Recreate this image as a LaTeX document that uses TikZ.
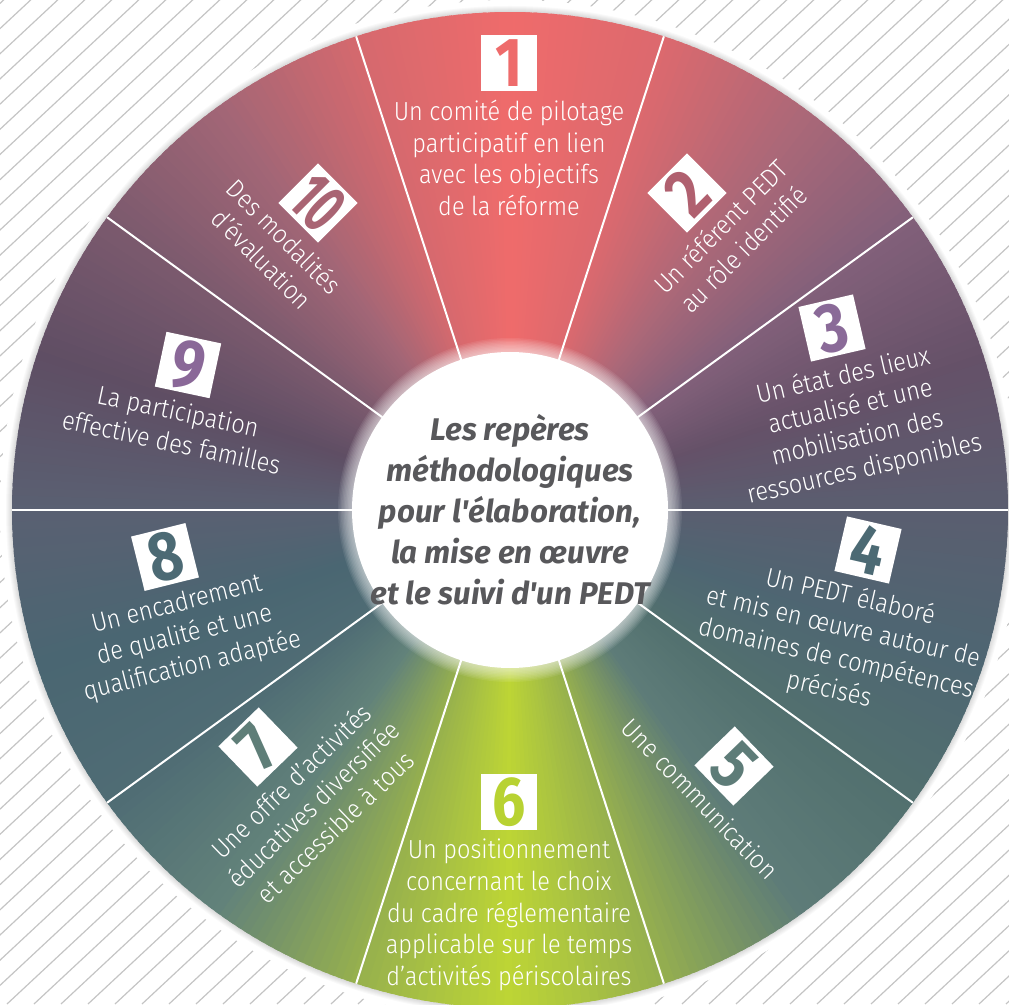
\documentclass[tikz,border=0pt]{standalone}
\usepackage{fontspec}
\setmainfont{Fira Sans}
\newfontfamily\segfont{Fira Sans Light}[FakeStretch=0.9]
\newfontfamily\numfont{Fira Sans}[FakeStretch=0.85]
\newfontfamily\numnarrow{Fira Sans}[FakeStretch=0.62]
\usetikzlibrary{positioning}

\definecolor{hatchgray}{RGB}{196,196,196}
\definecolor{titlegray}{HTML}{58585B}
% wheel colours, every 18 degrees clockwise from the top
\definecolor{k0}{HTML}{EF6B6B}
\definecolor{k1}{HTML}{DC696E}
\definecolor{k2}{HTML}{AC6878}
\definecolor{k3}{HTML}{82607A}
\definecolor{k4}{HTML}{655168}
\definecolor{k5}{HTML}{5A5E70}
\definecolor{k6}{HTML}{4E6672}
\definecolor{k7}{HTML}{52706F}
\definecolor{k8}{HTML}{5E7C78}
\definecolor{k9}{HTML}{96B04E}
\definecolor{k10}{HTML}{BDD535}
\definecolor{k11}{HTML}{96B04E}
\definecolor{k12}{HTML}{62827A}
\definecolor{k13}{HTML}{4F6C74}
\definecolor{k14}{HTML}{4A6672}
\definecolor{k15}{HTML}{5A6072}
\definecolor{k16}{HTML}{5F4E64}
\definecolor{k17}{HTML}{7C5A6E}
\definecolor{k18}{HTML}{A26676}
\definecolor{k19}{HTML}{D6696E}
% digit colours
\definecolor{n1}{HTML}{EE6B6B}
\definecolor{n2}{HTML}{B0606F}
\definecolor{n3}{HTML}{8A6A98}
\definecolor{n4}{HTML}{4C6A74}
\definecolor{n5}{HTML}{5E7C78}
\definecolor{n6}{HTML}{B8D232}
\definecolor{n7}{HTML}{5F7E78}
\definecolor{n8}{HTML}{4C6A74}
\definecolor{n9}{HTML}{8A6898}
\definecolor{n10}{HTML}{A96473}

\tikzset{every picture/.style={line width=0.75pt}}
\tikzset{
  numbox/.style={fill=white, minimum size=42pt, inner sep=0pt,
    font=\numfont\bfseries\fontsize{52}{52}\selectfont},
  segtext/.style={text=white, align=center, inner sep=0pt,
    font=\segfont\fontsize{19.6}{23.8}\selectfont},
  spoke/.style={white, line width=1.5pt},
}

\begin{document}
\begin{tikzpicture}[x=0.75pt,y=0.75pt]
\useasboundingbox (0,0) rectangle (1009,1004);
\clip (0,0) rectangle (1009,1004);

% hatched background
\foreach \x in {-1100,-1073,...,1020}
  \draw[hatchgray, line width=0.9pt] (\x,0) -- ++(43:1480);

\begin{scope}[shift={(510,494)}]
  % halo and shadow round the wheel
  \fill[white] (0,0) circle (510);
  \foreach \k in {1,...,6}
    \fill[black, opacity=0.025] (0,0) circle (498+\k);

  % wheel: thin slices blending the key colours
  \foreach \i [evaluate=\i as \j using {int(mod(\i+1,20))}] in {0,...,19}{
    \foreach \p in {0,...,17}{
      \pgfmathsetmacro{\a}{90-18*\i-\p}
      \pgfmathsetmacro{\m}{100-100*\p/18}
      \fill[k\i!\m!k\j] (0,0) -- (\a+0.3:498)
        arc[start angle=\a+0.3, end angle=\a-1.3, radius=498] -- cycle;
    }
  }

  % spokes
  \foreach \a in {0,36,...,324}
    \draw[spoke] (\a:150) -- (\a:498);

  % centre disc with a soft glow
  \foreach \k in {1,...,10}
    \fill[white, opacity=0.08] (0,0) circle (158+1.4*\k);
  \fill[white] (0,0) circle (158);
  \node[text=titlegray, align=center, inner sep=0pt,
    font=\bfseries\itshape\fontsize{23.5}{30.8}\selectfont] (title) at (0,0)
    {Les repères\\ méthodologiques\\ pour l\textquotesingle élaboration,\\
     la mise en œuvre\\ et le suivi d\textquotesingle un PEDT};
\end{scope}

% 1
\begin{scope}[shift={(509,941)}, transform shape]
  \node[numbox, text=n1] (num1) at (0,0) {1};
  \node[segtext, below=6pt of num1] (txt1)
    {Un comité de pilotage\\ participatif en lien\\ avec les objectifs\\ de la réforme};
\end{scope}
% 2
\begin{scope}[shift={(687,811)}, rotate=45, transform shape]
  \node[numbox, text=n2] (num2) at (0,0) {2};
  \node[segtext, below=6pt of num2] (txt2) {Un référent PEDT\\ au rôle identifié};
\end{scope}
% 3
\begin{scope}[shift={(832,676)}, rotate=13, transform shape]
  \node[numbox, text=n3] (num3) at (0,0) {3};
  \node[segtext, below=6pt of num3] (txt3)
    {Un état des lieux\\ actualisé et une\\ mobilisation des\\ ressources disponibles};
\end{scope}
% 4
\begin{scope}[shift={(868,454)}, rotate=-13, transform shape]
  \node[numbox, text=n4] (num4) at (0,0) {4};
  \node[segtext, below=6pt of num4, xshift=-5pt] (txt4)
    {Un PEDT élaboré\\ et mis en œuvre autour de\\ domaines de compétences\\ précisés};
\end{scope}
% 5
\begin{scope}[shift={(734,238)}, rotate=-46, transform shape]
  \node[numbox, text=n5] (num5) at (0,0) {5};
  \node[segtext, below=6pt of num5] (txt5) {Une communication};
\end{scope}
% 6
\begin{scope}[shift={(509,202)}, transform shape]
  \node[numbox, text=n6] (num6) at (0,0) {6};
  \node[segtext, below=6pt of num6] (txt6)
    {Un positionnement\\ concernant le choix\\ du cadre réglementaire\\
     applicable sur le temps\\ d’activités périscolaires};
\end{scope}
% 7
\begin{scope}[shift={(258,257)}, rotate=44, transform shape]
  \node[numbox, text=n7] (num7) at (0,0) {7};
  \node[segtext, below=6pt of num7] (txt7)
    {Une offre d’activités\\ éducatives diversifiée\\ et accessible à tous};
\end{scope}
% 8
\begin{scope}[shift={(165,447)}, rotate=14, transform shape]
  \node[numbox, text=n8] (num8) at (0,0) {8};
  \node[segtext, below=6pt of num8] (txt8)
    {Un encadrement\\ de qualité et une\\ qualification adaptée};
\end{scope}
% 9
\begin{scope}[shift={(188,639)}, rotate=-12, transform shape]
  \node[numbox, text=n9] (num9) at (0,0) {9};
  \node[segtext, below=6pt of num9] (txt9) {La participation\\ effective des familles};
\end{scope}
% 10
\begin{scope}[shift={(318,801)}, rotate=-45, transform shape]
  \node[numbox, text=n10, font=\numnarrow\bfseries\fontsize{52}{52}\selectfont] (num10) at (0,0) {10};
  \node[segtext, below=6pt of num10] (txt10) {Des modalités\\ d’évaluation};
\end{scope}

\end{tikzpicture}
\end{document}
